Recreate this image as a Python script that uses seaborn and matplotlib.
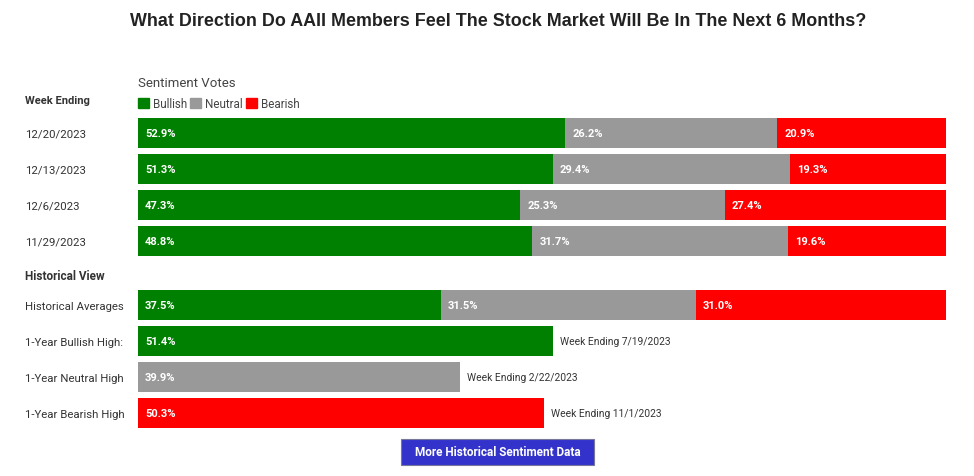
import seaborn as sns
import pandas as pd
import numpy as np
from matplotlib import pyplot as plt
from matplotlib.patches import Patch, Rectangle

# 数据
weeks = ["12/20/2023", "12/13/2023", "12/6/2023", "11/29/2023"]
week_bull = [52.9, 51.3, 47.3, 48.8]
week_neutral = [26.2, 29.4, 25.3, 31.7]
week_bear = [20.9, 19.3, 27.4, 19.6]

hist_rows = ["Historical Averages", "1-Year Bullish High:", "1-Year Neutral High", "1-Year Bearish High"]
hist_bull = [37.5, 51.4, 0, 0]
hist_neutral = [31.5, 0, 39.9, 0]
hist_bear = [31.0, 0, 0, 50.3]
hist_notes = ["", "Week Ending 7/19/2023", "Week Ending 2/22/2023", "Week Ending 11/1/2023"]

GREEN, GREY, RED = "#008000", "#999999", "#ff0000"

sns.set_theme(style="white")
plt.rcParams['font.family'] = ['Roboto', 'DejaVu Sans']

fig = plt.figure(figsize=(9.74, 4.77), dpi=100)
W, H = 974, 477


def px_axes(x0, y0, x1, y1):
    return fig.add_axes([x0 / W, 1 - y1 / H, (x1 - x0) / W, (y1 - y0) / H])


def draw_stack(ax, rows, bull, neutral, bear, notes=None):
    df = pd.DataFrame({"row": rows, "bull": bull, "neutral": neutral, "bear": bear})
    df["c1"] = df["bull"]
    df["c2"] = df["bull"] + df["neutral"]
    df["c3"] = df["c2"] + df["bear"]
    # 从总长开始叠加绘制
    for col, c in [("c3", RED), ("c2", GREY), ("c1", GREEN)]:
        sns.barplot(data=df, x=col, y="row", color=c, width=30 / 36, orient="h",
                    saturation=1, ax=ax, linewidth=0)
    for i, r in df.iterrows():
        for val, end in [(r["bull"], r["c1"]), (r["neutral"], r["c2"]), (r["bear"], r["c3"])]:
            if val > 0:
                ax.annotate(f"{val:.1f}%", (end - val, i), xytext=(5, 0), textcoords="offset points",
                            ha="left", va="center", color="white", fontsize=8, fontweight="bold")
        if notes is not None and notes[i]:
            ax.annotate(notes[i], (r["c3"], i), xytext=(4.5, 0), textcoords="offset points",
                        ha="left", va="center", color="#333333", fontsize=7.4)
    ax.set_xlim(0, 100)
    ax.set_ylim(len(rows) - 0.5, -0.5)
    ax.set_xlabel("")
    ax.set_ylabel("")
    ax.set_xticks([])
    sns.despine(ax=ax, left=True, bottom=True)
    ax.tick_params(axis="y", length=0, pad=113 * 72 / 100)
    for lab in ax.get_yticklabels():
        lab.set_ha("left")
        lab.set_fontsize(8.2)
        lab.set_color("#333333")


ax1 = px_axes(138, 116, 946, 260)
draw_stack(ax1, weeks, week_bull, week_neutral, week_bear)

ax2 = px_axes(138, 288, 946, 432)
draw_stack(ax2, hist_rows, hist_bull, hist_neutral, hist_bear, hist_notes)

# 标题和说明文字
fig.text(498 / W, 1 - 21 / H, "What Direction Do AAII Members Feel The Stock Market Will Be In The Next 6 Months?",
         ha="center", va="center", fontsize=12.9, fontweight="bold", color="#222222",
         family=["Liberation Sans", "DejaVu Sans"])
fig.text(138 / W, 1 - 84 / H, "Sentiment Votes", ha="left", va="center", fontsize=9.5, color="#444444")
fig.text(25 / W, 1 - 101 / H, "Week Ending", ha="left", va="center", fontsize=8, fontweight="bold", color="#333333")
fig.text(25 / W, 1 - 276 / H, "Historical View", ha="left", va="center", fontsize=8.5, fontweight="bold",
         color="#333333")

handles = [Patch(color=GREEN, label="Bullish"), Patch(color=GREY, label="Neutral"), Patch(color=RED, label="Bearish")]
fig.legend(handles=handles, loc="upper left", bbox_to_anchor=(138 / W, 1 - 98 / H), ncol=3, frameon=False,
           fontsize=8.4, handlelength=0.95, handleheight=0.95, handletextpad=0.3, columnspacing=0.3,
           borderpad=0, borderaxespad=0, labelcolor="#444444")

# 按钮
fig.patches.append(Rectangle((401 / W, 1 - 466 / H), 193 / W, 26 / H, transform=fig.transFigure,
                             facecolor="#3333cc", edgecolor="#777799", linewidth=0.8))
fig.text(497.5 / W, 1 - 453 / H, "More Historical Sentiment Data", ha="center", va="center",
         fontsize=8.5, fontweight="bold", color="white")

plt.savefig("out.png", dpi=100)
